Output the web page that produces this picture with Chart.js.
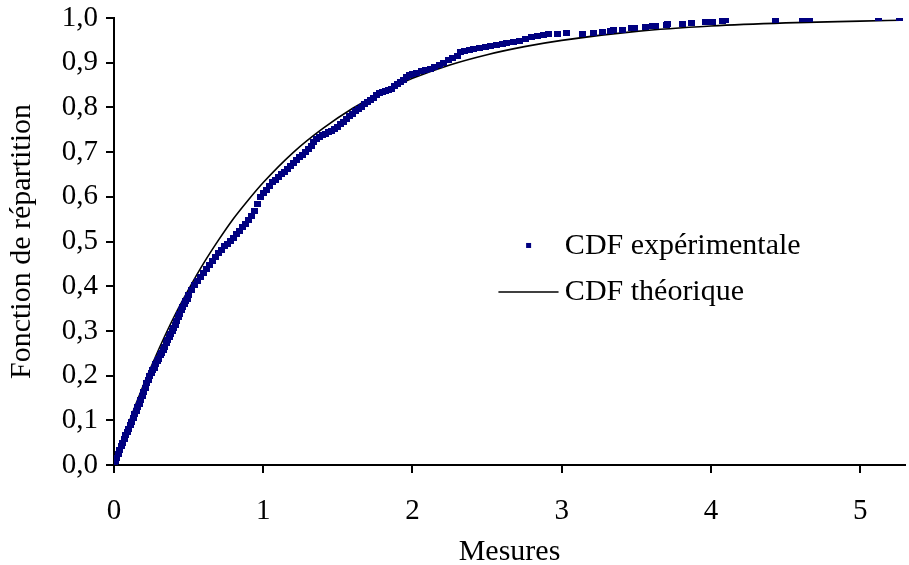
<!DOCTYPE html>
<html>
<head>
<meta charset="utf-8">
<script src="https://cdn.jsdelivr.net/npm/chart.js@4.4.1/dist/chart.umd.min.js"></script>
<style>
  html, body { margin: 0; padding: 0; background: #fff; }
  canvas { display: block; }
</style>
</head>
<body>
<canvas id="cdfChart" width="909" height="565"></canvas>
<script>
const expX = [
  0.00, 0.01, 0.02, 0.03, 0.04, 0.05, 0.06, 0.07, 0.08, 0.09,
  0.10, 0.11, 0.12, 0.13, 0.14, 0.15, 0.16, 0.17, 0.18, 0.19,
  0.20, 0.21, 0.22, 0.23, 0.24, 0.25, 0.26, 0.27, 0.28, 0.29,
  0.30, 0.31, 0.32, 0.33, 0.34, 0.35, 0.36, 0.37, 0.38, 0.39,
  0.40, 0.41, 0.42, 0.43, 0.44, 0.45, 0.46, 0.47, 0.48, 0.49,
  0.50, 0.52, 0.54, 0.56, 0.58, 0.60, 0.62, 0.64, 0.66, 0.68,
  0.70, 0.72, 0.74, 0.76, 0.78, 0.80, 0.82, 0.84, 0.86, 0.88,
  0.90, 0.92, 0.94, 0.96, 0.98, 1.00, 1.02, 1.04, 1.06, 1.08,
  1.10, 1.12, 1.14, 1.16, 1.18, 1.20, 1.22, 1.24, 1.26, 1.28,
  1.30, 1.32, 1.34, 1.36, 1.38, 1.40, 1.42, 1.44, 1.46, 1.48,
  1.50, 1.52, 1.54, 1.56, 1.58, 1.60, 1.62, 1.64, 1.66, 1.68,
  1.70, 1.72, 1.74, 1.76, 1.78, 1.80, 1.82, 1.84, 1.86, 1.88,
  1.90, 1.92, 1.94, 1.96, 1.98, 2.00, 2.03, 2.06, 2.09, 2.12,
  2.15, 2.18, 2.21, 2.24, 2.27, 2.30, 2.32, 2.35, 2.38, 2.41,
  2.45, 2.49, 2.52, 2.56, 2.60, 2.63, 2.68, 2.72, 2.76, 2.80,
  2.84, 2.88, 2.91, 2.97, 3.03, 3.14, 3.21, 3.27, 3.33, 3.35,
  3.41, 3.47, 3.49, 3.56, 3.61, 3.63, 3.70, 3.71, 3.81, 3.87,
  3.96, 4.01, 4.08, 4.10, 4.43, 4.61, 4.66, 5.12, 5.26
];
const expY = [
  0.000, 0.008, 0.016, 0.025, 0.033, 0.042, 0.050, 0.058, 0.066, 0.074,
  0.081, 0.089, 0.097, 0.105, 0.113, 0.121, 0.129, 0.137, 0.146, 0.155,
  0.164, 0.173, 0.183, 0.191, 0.198, 0.205, 0.212, 0.218, 0.225, 0.232,
  0.238, 0.245, 0.251, 0.258, 0.265, 0.272, 0.279, 0.286, 0.293, 0.300,
  0.307, 0.313, 0.322, 0.330, 0.338, 0.346, 0.353, 0.360, 0.366, 0.372,
  0.380, 0.392, 0.402, 0.411, 0.420, 0.429, 0.438, 0.447, 0.456, 0.465,
  0.474, 0.482, 0.489, 0.495, 0.501, 0.508, 0.516, 0.524, 0.532, 0.540,
  0.548, 0.557, 0.568, 0.584, 0.600, 0.608, 0.616, 0.624, 0.632, 0.638,
  0.644, 0.650, 0.656, 0.662, 0.669, 0.676, 0.682, 0.688, 0.694, 0.700,
  0.707, 0.714, 0.722, 0.729, 0.734, 0.738, 0.741, 0.744, 0.748, 0.752,
  0.757, 0.763, 0.768, 0.774, 0.780, 0.785, 0.791, 0.797, 0.802, 0.807,
  0.812, 0.817, 0.822, 0.827, 0.832, 0.834, 0.836, 0.838, 0.842, 0.847,
  0.852, 0.857, 0.862, 0.867, 0.872, 0.875, 0.878, 0.881, 0.884, 0.887,
  0.891, 0.895, 0.900, 0.905, 0.910, 0.916, 0.924, 0.927, 0.929, 0.931,
  0.933, 0.936, 0.938, 0.940, 0.942, 0.944, 0.946, 0.949, 0.953, 0.957,
  0.960, 0.962, 0.964, 0.965, 0.966, 0.965, 0.967, 0.968, 0.971, 0.973,
  0.974, 0.977, 0.977, 0.980, 0.981, 0.983, 0.984, 0.986, 0.986, 0.988,
  0.991, 0.991, 0.993, 0.996, 0.996, 0.998, 0.998, 1.000, 1.000
];

// Theoretical CDF
const theoX = [0, 0.1, 0.2, 0.3, 0.4, 0.5, 0.6, 0.7, 0.8, 0.9, 1.0, 1.2, 1.4, 1.6, 1.8, 2.0, 2.25, 2.5, 2.75, 3.0, 3.5, 4.0, 4.5, 5.0, 5.27];
const theoY = [0, 0.095, 0.181, 0.259, 0.330, 0.393, 0.451, 0.503, 0.551, 0.593, 0.632, 0.699, 0.753, 0.798, 0.835, 0.865, 0.895, 0.918, 0.936, 0.950, 0.970, 0.982, 0.989, 0.993, 0.995];

const seriesLabels = ['CDF expérimentale', 'CDF théorique'];
const xTicks = [0, 1, 2, 3, 4, 5];
const yTicks = [0, 0.1, 0.2, 0.3, 0.4, 0.5, 0.6, 0.7, 0.8, 0.9, 1.0];
const yTickLabels = ['0,0', '0,1', '0,2', '0,3', '0,4', '0,5', '0,6', '0,7', '0,8', '0,9', '1,0'];

const FONT = '"Liberation Serif", "Times New Roman", serif';
const NAVY = '#000080';

// small flat marker like the spreadsheet's dash
const mark = document.createElement('canvas');
mark.width = 7; mark.height = 6;
const mctx = mark.getContext('2d');
mctx.fillStyle = NAVY;
mctx.fillRect(0, 0, 7, 6);

// legend drawn inside the plot, right of centre
const sideLegend = {
  id: 'sideLegend',
  afterDraw(chart) {
    const ctx = chart.ctx, a = chart.chartArea;
    const w = a.right - a.left, h = a.bottom - a.top;
    const tx = a.left + w * 0.570;
    const y1 = a.top + h * 0.510;
    const y2 = a.top + h * 0.613;
    ctx.save();
    ctx.fillStyle = NAVY;
    ctx.fillRect(a.left + w * 0.521, y1 - 3, 5, 5);
    ctx.strokeStyle = '#000';
    ctx.lineWidth = 1.5;
    ctx.beginPath();
    ctx.moveTo(a.left + w * 0.486, y2);
    ctx.lineTo(a.left + w * 0.562, y2);
    ctx.stroke();
    ctx.fillStyle = '#000';
    ctx.font = '30px ' + FONT;
    ctx.textBaseline = 'middle';
    ctx.fillText(seriesLabels[0], tx, y1);
    ctx.fillText(seriesLabels[1], tx, y2);
    ctx.restore();
  }
};

new Chart(document.getElementById('cdfChart'), {
  type: 'scatter',
  data: {
    datasets: [{
      label: seriesLabels[0],
      data: expX.map((x, i) => ({ x: x, y: expY[i] })),
      pointStyle: mark,
      pointRadius: 3,
      pointHoverRadius: 3,
      showLine: false
    }, {
      label: seriesLabels[1],
      data: theoX.map((x, i) => ({ x: x, y: theoY[i] })),
      showLine: true,
      borderColor: '#000',
      borderWidth: 1.6,
      pointRadius: 0,
      cubicInterpolationMode: 'monotone'
    }]
  },
  options: {
    responsive: false,
    animation: false,
    layout: { padding: { top: 18, right: 2, left: 0, bottom: 0 } },
    plugins: {
      legend: { display: false },
      tooltip: { enabled: false }
    },
    scales: {
      x: {
        type: 'linear',
        min: 0,
        max: 5.3,
        afterFit: s => { s.height = 100; s.paddingLeft = 0; s.paddingRight = 0; },
        afterBuildTicks: s => { s.ticks = xTicks.map(v => ({ value: v })); },
        border: { color: '#000', width: 2 },
        grid: { drawOnChartArea: false, drawTicks: true, tickLength: 8, color: '#000', lineWidth: 2 },
        ticks: {
          padding: 21,
          color: '#000',
          font: { family: FONT, size: 29 },
          callback: (v, i) => String(xTicks[i])
        },
        title: {
          display: true,
          text: 'Mesures',
          color: '#000',
          font: { family: FONT, size: 30, lineHeight: 1.0 },
          padding: { top: 0, bottom: -2 }
        }
      },
      y: {
        min: 0,
        max: 1,
        afterFit: s => { s.width = 114; s.paddingTop = 0; s.paddingBottom = 0; },
        afterBuildTicks: s => { s.ticks = yTicks.map(v => ({ value: v })); },
        border: { color: '#000', width: 2 },
        grid: { drawOnChartArea: false, drawTicks: true, tickLength: 8, color: '#000', lineWidth: 2 },
        ticks: {
          padding: 8,
          color: '#000',
          font: { family: FONT, size: 29 },
          callback: (v, i) => yTickLabels[i]
        },
        title: {
          display: true,
          text: 'Fonction de répartition',
          color: '#000',
          font: { family: FONT, size: 30, lineHeight: 1.0 },
          padding: { top: 7, bottom: 0 }
        }
      }
    }
  },
  plugins: [sideLegend]
});
</script>
</body>
</html>
